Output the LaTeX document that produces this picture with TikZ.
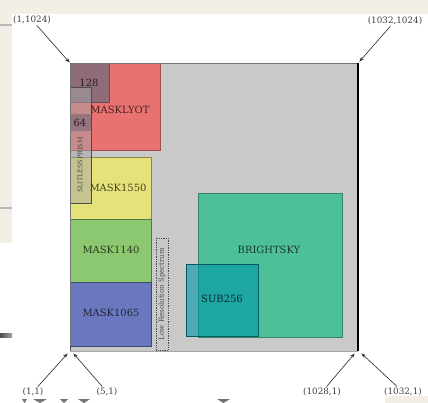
\documentclass[tikz,border=0pt]{standalone}
\usepackage{fontspec}
\setmainfont{DejaVu Serif}
\usepackage{tikz}
\usetikzlibrary{arrows.meta, positioning}
\definecolor{paper}{RGB}{243,239,231}
\definecolor{detgray}{RGB}{201,201,201}
\definecolor{lyotred}{RGB}{232,114,112}
\definecolor{coronagray}{RGB}{143,108,122}
\definecolor{maskyellow}{RGB}{229,226,122}
\definecolor{maskgreen}{RGB}{139,200,112}
\definecolor{maskblue}{RGB}{108,120,190}
\definecolor{skygreen}{RGB}{77,192,154}
\definecolor{subteal}{RGB}{0,150,170}

\begin{document}
\begin{tikzpicture}[
        x=0.03cm, y=-0.03cm,
        >=Stealth,
        % Filled subarray rectangles
        sub_box/.style={line width=0.4pt},
        % Text inside the subarrays
        sub_label/.style={font=\fontsize{8.5}{9}\selectfont, inner sep=1pt},
        % Pixel coordinate labels round the detector
        coord_label/.style={font=\fontsize{7.5}{9}\selectfont, text=black!75, inner sep=1pt},
        coord_arrow/.style={->, draw=black!80, line width=0.55pt,
            shorten >=0.5pt, >={Stealth[length=4pt, width=3pt]}}
    ]

    % 1. Page around the figure
    \useasboundingbox (0,0) rectangle (428,403);
    \fill[paper] (0,0) rectangle (428,403);
    \fill[white] (12,14) rectangle (428,396);
    \fill[white] (0,243) rectangle (12,396);
    \fill[white] (0,396) rectangle (385,403);
    \draw[gray!55, line width=1pt] (0,25) -- (12,25);
    \draw[gray!55, line width=1pt] (0,208) -- (12,208);
    \shade[left color=black!70, right color=black!35] (0,333) rectangle (12,337);
    \foreach \xa/\xb in {22/27, 33/47, 60/68, 78/90, 217/230}
        \fill[black!55] (\xa,399) -- (\xb,399) -- ({(\xa+\xb)/2},403) -- cycle;

    % 2. Detector area
    \fill[detgray] (70,63) rectangle (358,351);
    \coordinate (det_tl) at (70,63);
    \coordinate (det_tr) at (359,62);
    \coordinate (px_11) at (68,353);
    \coordinate (px_51) at (73,353);
    \coordinate (px_1028) at (355,353);
    \coordinate (px_1032) at (361,353);

    % 3. Subarrays
    \fill[lyotred, draw=lyotred!70!black, sub_box] (70,63) rectangle (160,150);
    \fill[coronagray, draw=coronagray!70!black, sub_box] (70,63) rectangle (109,102);
    \fill[maskyellow, draw=maskyellow!60!black, sub_box] (70,157) rectangle (151,219);
    \fill[maskgreen, draw=maskgreen!60!black, sub_box] (70,219) rectangle (151,282);
    \fill[maskblue, draw=maskblue!60!black, sub_box] (70,282) rectangle (151,346);
    \fill[skygreen, draw=skygreen!70!black, sub_box] (198,193) rectangle (342,337);
    \fill[subteal, fill opacity=0.6, draw=subteal!60!black, sub_box] (186,264) rectangle (258,336);

    % slitless prism strip and its 64 subarray
    \fill[gray!70, fill opacity=0.5, draw=gray!60!black, sub_box] (70,87) rectangle (91,203);
    \fill[coronagray!85!gray, fill opacity=0.8] (70,114) rectangle (91,131);

    % low resolution spectrum slit
    \draw[densely dotted, gray!60!black, line width=0.5pt] (156,238) rectangle (168,350);

    % 4. Detector border
    \draw[black!55, line width=0.7pt] (70,351) -- (70,63) -- (358,63);
    \draw[black!35, line width=0.8pt] (70,351) -- (358,351);
    \draw[black!70, line width=0.7pt] (70,346) -- (70,351);
    \draw[black, line width=1.2pt] (358,63) -- (358,351);

    % 5. Subarray names
    \node[sub_label, text=lyotred!30!black] (lyot) at (120,110) {MASKLYOT};
    \node[sub_label, text=coronagray!30!black] (m128) at (89,83) {128};
    \node[sub_label, text=coronagray!30!black] (m64) at (80,123) {64};
    \node[sub_label, text=black!70, rotate=90, font=\fontsize{5.5}{6}\selectfont] (prism) at (80,165) {SLITLESSPRISM};
    \node[sub_label, text=maskyellow!30!black] (m1550) at (118,188) {MASK1550};
    \node[sub_label, text=maskgreen!30!black] (m1140) at (111,250) {MASK1140};
    \node[sub_label, text=maskblue!30!black] (m1065) at (111,313) {MASK1065};
    \node[sub_label, text=black!70, rotate=90, font=\fontsize{6}{7}\selectfont] (lrs) at (162,294) {Low Resolution Spectrum};
    \node[sub_label, text=skygreen!30!black] (sky) at (269,250) {BRIGHTSKY};
    \node[sub_label, text=subteal!30!black] (s256) at (222,299) {SUB256};

    % 6. Corner pixel coordinates
    \node[coord_label] (lbl_tl) at (32,20) {(1,1024)};
    \node[coord_label] (lbl_tr) at (395,21) {(1032,1024)};
    \node[coord_label] (lbl_11) at (33,392) {(1,1)};
    \node[coord_label] (lbl_51) at (107,392) {(5,1)};
    \node[coord_label] (lbl_1028) at (322,392) {(1028,1)};
    \node[coord_label] (lbl_1032) at (403,392) {(1032,1)};

    \draw[coord_arrow] (lbl_tl) -- (det_tl);
    \draw[coord_arrow] (lbl_tr) -- (det_tr);
    \draw[coord_arrow] (lbl_11) -- (px_11);
    \draw[coord_arrow] (lbl_51) -- (px_51);
    \draw[coord_arrow] (lbl_1028) -- (px_1028);
    \draw[coord_arrow] (lbl_1032) -- (px_1032);

\end{tikzpicture}
\end{document}
